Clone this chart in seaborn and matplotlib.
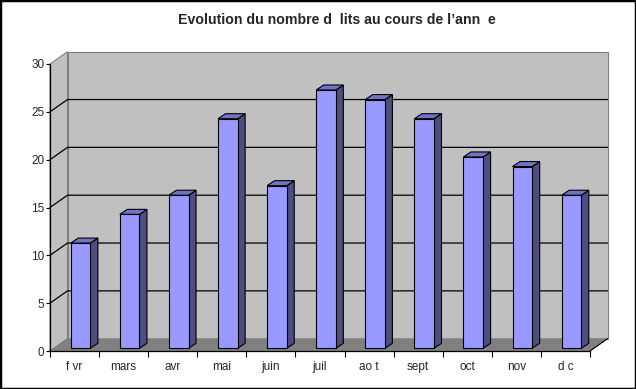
import numpy as np
import pandas as pd
import seaborn as sns
import matplotlib
matplotlib.use("Agg")
import matplotlib.pyplot as plt
from matplotlib.patches import Polygon, Rectangle
from matplotlib.lines import Line2D
from matplotlib.transforms import IdentityTransform, ScaledTranslation

# ---- data ----
months = ["f vr", "mars", "avr", "mai", "juin", "juil", "ao t", "sept", "oct", "nov", "d c"]
values = [11, 14, 16, 24, 17, 27, 26, 24, 20, 19, 16]
yticks = [0, 5, 10, 15, 20, 25, 30]
title = "Evolution du nombre d  lits au cours de l\u2019ann  e"

sns.set_theme(style="white")
plt.rcParams['font.family'] = ['Liberation Sans', 'DejaVu Sans']

W, H = 636, 389
DPI = 100
fig = plt.figure(figsize=(W / DPI, H / DPI), dpi=DPI)
fig.patch.set_facecolor("white")
ax = fig.add_axes([50 / W, (H - 351) / H, 540 / W, 287 / H])
ax.patch.set_alpha(0)

df = pd.DataFrame({"mois": months, "lits": values})
sns.barplot(data=df, x="mois", y="lits", color="#9999ff", width=0.4,
            saturation=1, edgecolor="black", linewidth=0.8, ax=ax, zorder=6)
bars = list(ax.patches)
ax.set_xlim(-0.5, len(months) - 0.5)
ax.set_ylim(yticks[0], yticks[-1])
ax.set_xlabel("")
ax.set_ylabel("")

# 3D geometry (pixels)
WDX, WDY = 17.5, 12.3      # wall depth
BOX, BOY = 6.0, 2.7        # bar front offset
BDX, BDY = 7.5, 5.0        # bar depth

ident = IdentityTransform()


def px(x, y):
    return ax.transData.transform((x, y))


x0, y0 = px(-0.5, yticks[0])
x1, y1 = px(len(months) - 0.5, yticks[-1])

wall_c = "#c0c0c0"
edge_c = "#808080"
# left wall
ax.add_artist(Polygon([(x0, y0), (x0, y1), (x0 + WDX, y1 + WDY), (x0 + WDX, y0 + WDY)],
                      closed=True, facecolor=wall_c, edgecolor=edge_c, lw=0.8,
                      transform=ident, clip_on=False, zorder=0.5))
# back wall
ax.add_artist(Polygon([(x0 + WDX, y0 + WDY), (x0 + WDX, y1 + WDY), (x1 + WDX, y1 + WDY), (x1 + WDX, y0 + WDY)],
                      closed=True, facecolor=wall_c, edgecolor=edge_c, lw=0.8,
                      transform=ident, clip_on=False, zorder=0.5))
# floor
ax.add_artist(Polygon([(x0, y0), (x1, y0), (x1 + WDX, y0 + WDY), (x0 + WDX, y0 + WDY)],
                      closed=True, facecolor="#808080", edgecolor="#808080", lw=0.5,
                      transform=ident, clip_on=False, zorder=0.6))
# floor right edge
ax.add_artist(Line2D([x1, x1 + WDX], [y0, y0 + WDY], color="black", lw=0.8,
                     transform=ident, clip_on=False, zorder=0.7))

# gridlines on walls
for v in yticks[1:-1]:
    _, yv = px(0, v)
    ax.add_artist(Line2D([x0, x0 + WDX, x1 + WDX], [yv, yv + WDY, yv + WDY],
                         color="black", lw=0.9, transform=ident, clip_on=False, zorder=0.8))
_, yv = px(0, yticks[0])
ax.add_artist(Line2D([x0, x0 + WDX], [yv, yv + WDY], color=edge_c, lw=0.6,
                     transform=ident, clip_on=False, zorder=0.8))

# bars in 3D
shift = ax.transData + ScaledTranslation(BOX / DPI, BOY / DPI, fig.dpi_scale_trans)
for p in bars:
    bx, bw, bh = p.get_x(), p.get_width(), p.get_height()
    L, B = px(bx, 0)
    R, T = px(bx + bw, bh)
    L += BOX; R += BOX; B += BOY; T += BOY
    ax.add_artist(Polygon([(R, B), (R, T), (R + BDX, T + BDY), (R + BDX, B + BDY)],
                          closed=True, facecolor="#4d4d80", edgecolor="black", lw=0.8,
                          transform=ident, clip_on=False, zorder=5))
    ax.add_artist(Polygon([(L, T), (R, T), (R + BDX, T + BDY), (L + BDX, T + BDY)],
                          closed=True, facecolor="#7272c6", edgecolor="black", lw=0.8,
                          transform=ident, clip_on=False, zorder=5))
    p.set_transform(shift)
    p.set_clip_on(False)

# axes styling
for s in ["top", "right"]:
    ax.spines[s].set_visible(False)
for s in ["left", "bottom"]:
    ax.spines[s].set_color("black")
    ax.spines[s].set_linewidth(0.9)
    ax.spines[s].set_zorder(3)

ax.set_yticks(yticks)
ax.set_yticklabels([str(v) for v in yticks])
ax.tick_params(axis="y", which="major", direction="out", length=3, width=0.8,
               color="black", pad=1, labelsize=8.5, left=True)
ax.set_xticks(range(len(months)))
ax.set_xticklabels(months)
ax.set_xticks(np.arange(-0.5, len(months), 1.0), minor=True)
ax.tick_params(axis="x", which="major", length=0, pad=7.5, labelsize=8.5)
ax.tick_params(axis="x", which="minor", direction="out", length=4.5, width=0.8,
               color="black", bottom=True)
ax.grid(False)

fig.text(337 / W, 1 - 20 / H, title, ha="center", va="center",
         fontsize=10.2, fontweight="bold")

fig.add_artist(Rectangle((0, 0), 1, 1, transform=fig.transFigure, fill=False,
                         edgecolor="black", lw=2.5))

fig.savefig("out.png", dpi=DPI)
